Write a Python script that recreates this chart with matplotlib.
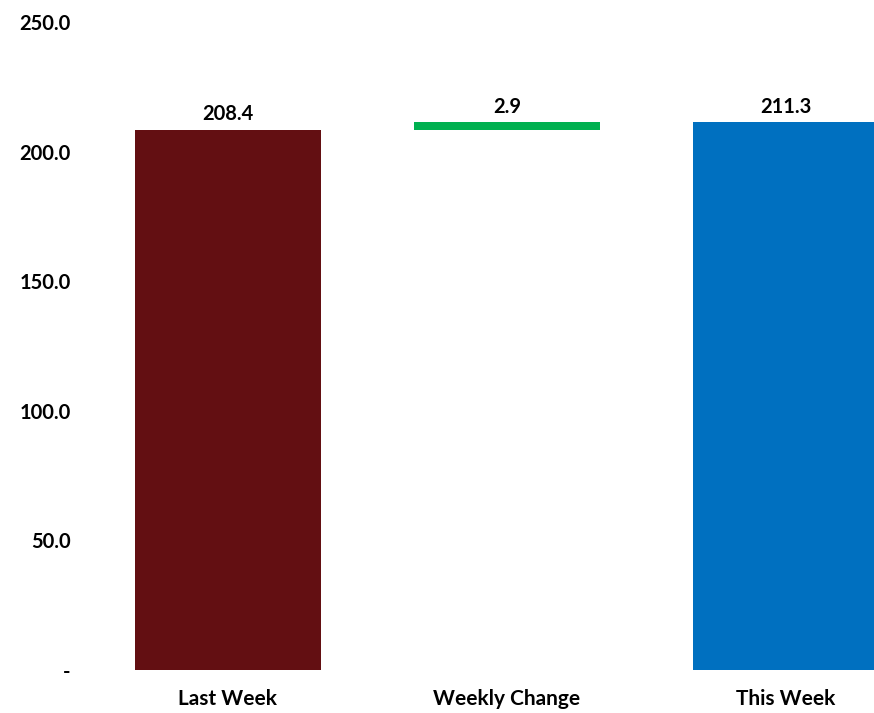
import matplotlib.pyplot as plt
import numpy as np

categories = ['Last Week', 'Weekly Change', 'This Week']
last_week = 208.4
weekly_change = 2.9
this_week = 211.3
y_ticks = [0, 50, 100, 150, 200, 250]
y_tick_labels = ['-', '50.0', '100.0', '150.0', '200.0', '250.0']

plt.rcParams['font.family'] = ['Lato', 'DejaVu Sans']
plt.rcParams['font.weight'] = 'bold'

fig = plt.figure(figsize=(8.74, 7.13), dpi=100)
# plot area runs past the right edge, as in the original
ax = fig.add_axes([88.5 / 874, 43 / 713, 837 / 874, 648 / 713])

x = np.arange(len(categories))
heights = [last_week, weekly_change, this_week]
bottoms = [0, last_week, 0]
colors = ['#630F12', '#00B050', '#0070C0']
width = 186 / 279

ax.bar(x, heights, bottom=bottoms, width=width, color=colors)

labels = [f'{v:.1f}' for v in heights]
for xi, h, b, lab in zip(x, heights, bottoms, labels):
    ax.annotate(lab, (xi, h + b), xytext=(0, 4), textcoords='offset points',
                ha='center', va='bottom', fontsize=14.5, fontweight='bold')

ax.set_xlim(-0.5, 2.5)
ax.set_ylim(0, 250)
ax.set_yticks(y_ticks)
ax.set_yticklabels(y_tick_labels, fontsize=14.5, fontweight='bold')
ax.set_xticks(x)
ax.set_xticklabels(categories, fontsize=15, fontweight='bold')
ax.tick_params(axis='y', length=0, pad=13)
ax.tick_params(axis='x', length=0, pad=14)
for s in ax.spines.values():
    s.set_visible(False)

fig.savefig('out.png', dpi=100)
